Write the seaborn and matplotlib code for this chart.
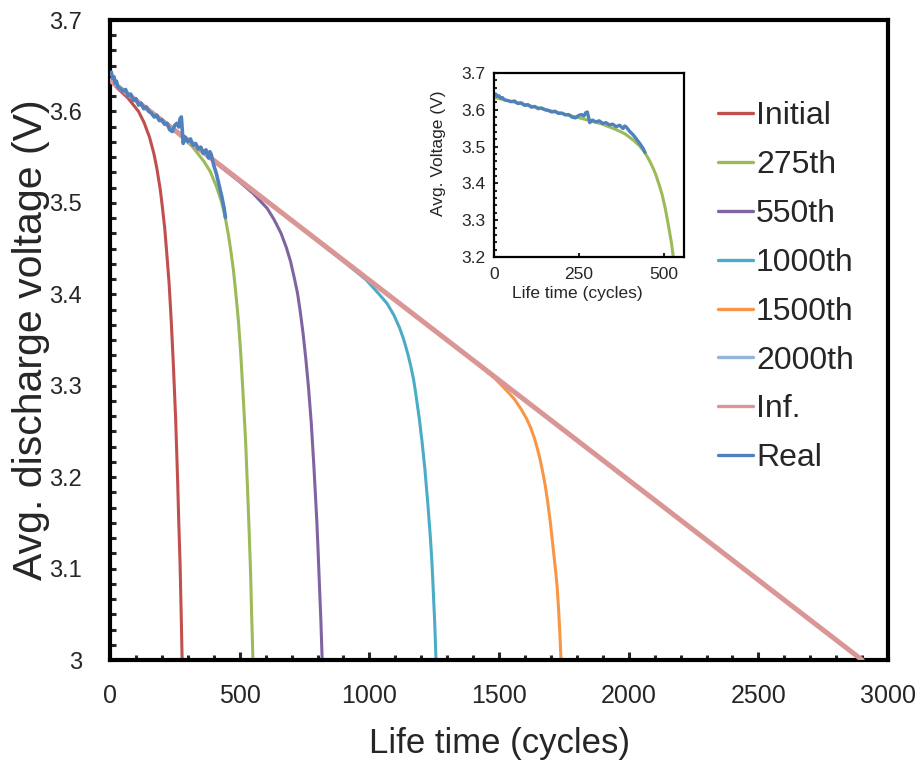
import matplotlib
matplotlib.use("Agg")
import matplotlib.pyplot as plt
import seaborn as sns
import pandas as pd
from matplotlib.lines import Line2D
from matplotlib.ticker import MultipleLocator, AutoMinorLocator, FormatStrFormatter

# ---------------- data ----------------
initial_x = [0, 30, 68, 110, 131, 152, 169, 181, 194, 202, 211, 219, 228, 236, 244, 253,
             261, 265, 270, 274, 278]
initial_y = [3.634, 3.625, 3.615, 3.600, 3.588, 3.572, 3.554, 3.537, 3.514, 3.495, 3.472,
             3.444, 3.411, 3.371, 3.324, 3.264, 3.193, 3.151, 3.106, 3.055, 3.000]

c275_x = [0, 100, 200, 260, 316, 363, 387, 410, 429, 443, 457, 466, 476, 485, 495, 504,
          513, 523, 532, 537, 542, 546, 551]
c275_y = [3.634, 3.612, 3.590, 3.576, 3.562, 3.545, 3.534, 3.518, 3.502, 3.486, 3.464,
          3.447, 3.426, 3.401, 3.371, 3.335, 3.291, 3.238, 3.174, 3.136, 3.095, 3.050, 3.000]

c550_x = [0, 250, 500, 553, 606, 632, 659, 680, 696, 712, 723, 733, 744, 754, 765, 776,
          786, 797, 802, 807, 813, 818]
c550_y = [3.634, 3.579, 3.523, 3.510, 3.494, 3.482, 3.467, 3.451, 3.436, 3.416, 3.401,
          3.382, 3.358, 3.332, 3.299, 3.259, 3.212, 3.154, 3.121, 3.085, 3.043, 3.000]

c1000_x = [0, 500, 900, 987, 1041, 1068, 1095, 1117, 1133, 1149, 1160, 1171, 1181, 1192,
           1203, 1214, 1225, 1235, 1241, 1246, 1252, 1257]
c1000_y = [3.634, 3.525, 3.436, 3.416, 3.399, 3.390, 3.377, 3.363, 3.350, 3.334, 3.321,
           3.306, 3.287, 3.265, 3.239, 3.209, 3.172, 3.135, 3.108, 3.078, 3.040, 3.000]

c1500_x = [0, 700, 1400, 1484, 1535, 1560, 1586, 1606, 1622, 1637, 1647, 1657, 1668, 1678,
           1688, 1698, 1708, 1719, 1724, 1729, 1734, 1739]
c1500_y = [3.634, 3.481, 3.328, 3.308, 3.293, 3.285, 3.274, 3.264, 3.254, 3.242, 3.232,
           3.221, 3.206, 3.191, 3.172, 3.150, 3.124, 3.095, 3.080, 3.058, 3.032, 3.000]

c2000_x = [0, 2000, 2900]
c2000_y = [3.634, 3.197, 3.000]

inf_x = [0, 2900]
inf_y = [3.634, 3.000]

real_x = [0, 5, 10, 15, 20, 25, 30, 40, 50, 60, 70, 80, 90, 100, 110, 120, 130, 140,
          150, 160, 170, 180, 190, 200, 210, 220, 230, 240, 250, 258, 265, 270, 275,
          278, 282, 290, 300, 310, 320, 330, 340, 350, 360, 370, 380, 385, 390, 400,
          410, 420, 430, 440, 445]
real_y = [3.641, 3.643, 3.636, 3.638, 3.631, 3.633, 3.627, 3.625, 3.622, 3.624, 3.617,
          3.619, 3.612, 3.614, 3.607, 3.609, 3.603, 3.605, 3.600, 3.598, 3.594, 3.596,
          3.590, 3.591, 3.586, 3.587, 3.580, 3.578, 3.585, 3.587, 3.583, 3.592, 3.594,
          3.582, 3.565, 3.572, 3.567, 3.570, 3.563, 3.565, 3.559, 3.561, 3.554, 3.558,
          3.549, 3.556, 3.553, 3.541, 3.532, 3.520, 3.508, 3.494, 3.484]

labels = ["Initial", "275th", "550th", "1000th", "1500th", "2000th", "Inf.", "Real"]
colors = ["#C0504D", "#9BBB59", "#8064A2", "#4BACC6", "#F79646", "#95B3D7", "#D99694", "#4F81BD"]

x_ticks = [0, 500, 1000, 1500, 2000, 2500, 3000]
y_ticks = [3.0, 3.1, 3.2, 3.3, 3.4, 3.5, 3.6, 3.7]
inset_x_ticks = [0, 250, 500]
inset_y_ticks = [3.2, 3.3, 3.4, 3.5, 3.6, 3.7]

series_x = [initial_x, c275_x, c550_x, c1000_x, c1500_x, c2000_x, inf_x, real_x]
series_y = [initial_y, c275_y, c550_y, c1000_y, c1500_y, c2000_y, inf_y, real_y]

# ---------------- styling ----------------
sns.set_style("white")
plt.rcParams['font.family'] = ['Liberation Sans', 'DejaVu Sans']

fig = plt.figure(figsize=(9.2, 7.61), dpi=100)
ax = fig.add_axes([0.1196, 0.1327, 0.8457, 0.8410])

widths = [2.2, 2.2, 2.2, 2.2, 2.2, 2.2, 3.6, 2.6]
zorders = [2, 2, 2, 2, 2, 1.5, 3, 4]
for xs, ys, lab, col, lw, z in zip(series_x, series_y, labels, colors, widths, zorders):
    df = pd.DataFrame({"x": xs, "y": ys})
    sns.lineplot(data=df, x="x", y="y", ax=ax, color=col, lw=lw, sort=False,
                 estimator=None, zorder=z, legend=False)

ax.set_xlim(0, 3000)
ax.set_ylim(3.0, 3.7)
ax.set_xticks(x_ticks)
ax.set_yticks(y_ticks)
ax.yaxis.set_major_formatter(FormatStrFormatter('%g'))
ax.xaxis.set_minor_locator(MultipleLocator(100))
ax.yaxis.set_minor_locator(AutoMinorLocator(6))
ax.tick_params(axis='x', which='major', direction='in', length=6, width=2.2, labelsize=18, pad=17)
ax.tick_params(axis='x', which='minor', direction='in', length=3.5, width=2.2)
ax.tick_params(axis='y', which='both', direction='in', length=4.5, width=2.2, labelsize=17, pad=20)
ax.tick_params(which='both', bottom=True, left=True, top=False, right=False)
for sp in ax.spines.values():
    sp.set_linewidth(3)
    sp.set_color('black')
ax.set_xlabel("Life time (cycles)", fontsize=25)
ax.set_ylabel("Avg. discharge voltage (V)", fontsize=29.5)
ax.xaxis.set_label_coords(0.5, -0.104)
ax.yaxis.set_label_coords(-0.077, 0.5)

handles = [Line2D([0], [0], color=c, lw=2.4) for c in colors]
ax.legend(handles, labels, loc='upper left', bbox_to_anchor=(0.781, 0.873),
          frameon=False, fontsize=23, handlelength=1.1, handletextpad=0.1,
          labelspacing=0.59, borderaxespad=0, borderpad=0)

# ---------------- inset ----------------
axin = fig.add_axes([0.537, 0.6623, 0.2065, 0.2418])
for idx, lw in [(1, 2.2), (7, 2.4)]:
    df = pd.DataFrame({"x": series_x[idx], "y": series_y[idx]})
    sns.lineplot(data=df, x="x", y="y", ax=axin, color=colors[idx], lw=lw, sort=False,
                 estimator=None, legend=False)
axin.set_xlim(0, 560)
axin.set_ylim(3.2, 3.7)
axin.set_xticks(inset_x_ticks)
axin.set_yticks(inset_y_ticks)
axin.yaxis.set_major_formatter(FormatStrFormatter('%.1f'))
axin.yaxis.set_minor_locator(MultipleLocator(0.02))
axin.tick_params(axis='both', which='major', direction='in', length=3, width=1.5, labelsize=12.5, pad=6)
axin.tick_params(axis='x', which='major', pad=7.5)
axin.tick_params(axis='y', which='minor', direction='in', length=2.5, width=1.5, left=True)
axin.tick_params(which='both', bottom=True, left=True, top=False, right=False)
for sp in axin.spines.values():
    sp.set_linewidth(1.6)
    sp.set_color('black')
axin.set_xlabel("Life time (cycles)", fontsize=12.5)
axin.set_ylabel("Avg. Voltage (V)", fontsize=12.5)
axin.xaxis.set_label_coords(0.437, -0.158)
axin.yaxis.set_label_coords(-0.253, 0.565)

fig.savefig("out.png", dpi=100)
